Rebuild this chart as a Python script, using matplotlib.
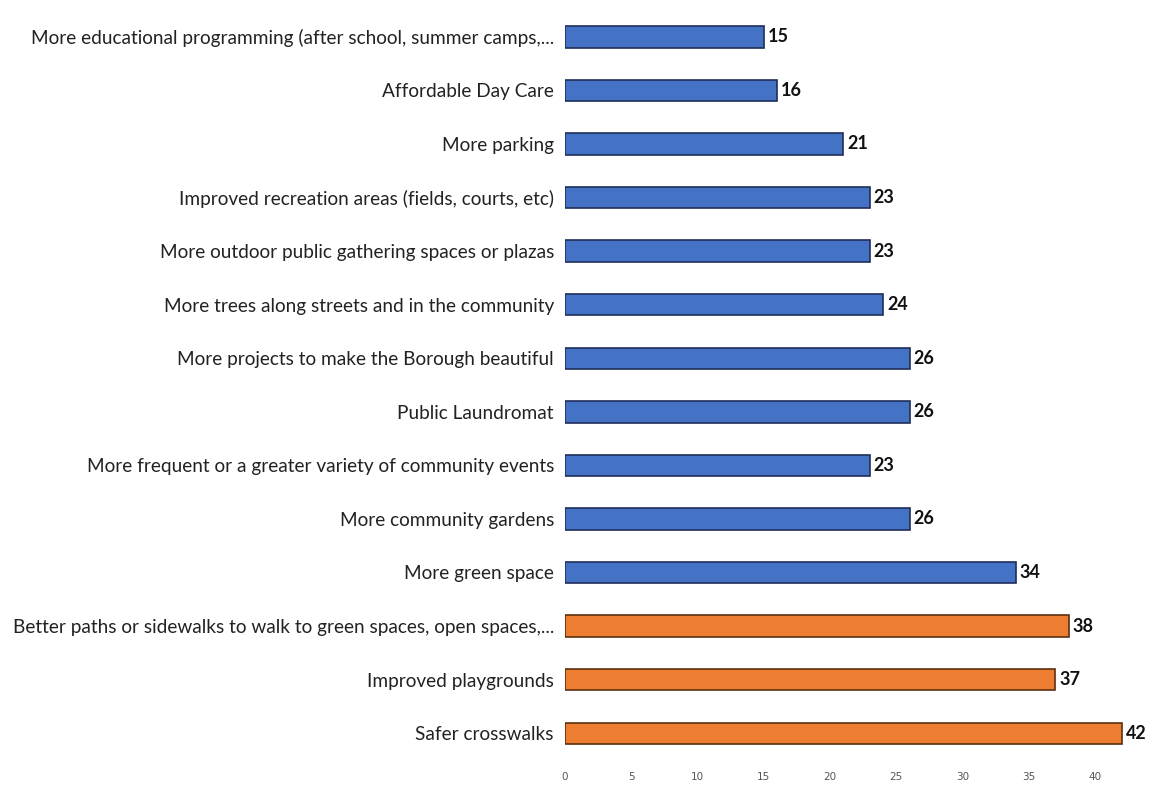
import matplotlib
matplotlib.use("Agg")
import matplotlib.pyplot as plt
import numpy as np

categories = [
    "More educational programming (after school, summer camps,...",
    "Affordable Day Care",
    "More parking",
    "Improved recreation areas (fields, courts, etc)",
    "More outdoor public gathering spaces or plazas",
    "More trees along streets and in the community",
    "More projects to make the Borough beautiful",
    "Public Laundromat",
    "More frequent or a greater variety of community events",
    "More community gardens",
    "More green space",
    "Better paths or sidewalks to walk to green spaces, open spaces,...",
    "Improved playgrounds",
    "Safer crosswalks",
]
values = [15, 16, 21, 23, 23, 24, 26, 26, 23, 26, 34, 38, 37, 42]
highlight = [False] * 11 + [True] * 3
x_ticks = [0, 5, 10, 15, 20, 25, 30, 35, 40]

LABEL_FONT = "Lato"

W, H = 1154, 793
fig = plt.figure(figsize=(W / 100, H / 100), dpi=100)
x0, x1 = 565, 1148
y_top, y_bot = 10, 760
ax = fig.add_axes([x0 / W, 1 - y_bot / H, (x1 - x0) / W, (y_bot - y_top) / H])

n = len(categories)
ypos = np.arange(n)
colors = ["#ED7D31" if h else "#4472C4" for h in highlight]
edges = ["#5a3010" if h else "#1f2f5a" for h in highlight]
ax.barh(ypos, values, height=0.4, color=colors, edgecolor=edges, linewidth=1.2)
for y, v in zip(ypos, values):
    ax.text(v + 0.3, y, str(v), va="center", ha="left", fontsize=13,
            fontweight="bold", family=LABEL_FONT, color="#111111")

ax.set_ylim(n - 0.5, -0.5)
ax.set_xlim(0, 44)
ax.set_yticks(ypos)
ax.set_yticklabels(categories, fontsize=13.7, family=LABEL_FONT, color="#222222")
ax.set_xticks(x_ticks)
ax.set_xticklabels([str(t) for t in x_ticks], fontsize=7.5, color="#555555")
ax.tick_params(axis="both", length=0)
ax.tick_params(axis="y", pad=8)
ax.tick_params(axis="x", pad=9)
for s in ax.spines.values():
    s.set_visible(False)

fig.savefig("out.png", dpi=100)
